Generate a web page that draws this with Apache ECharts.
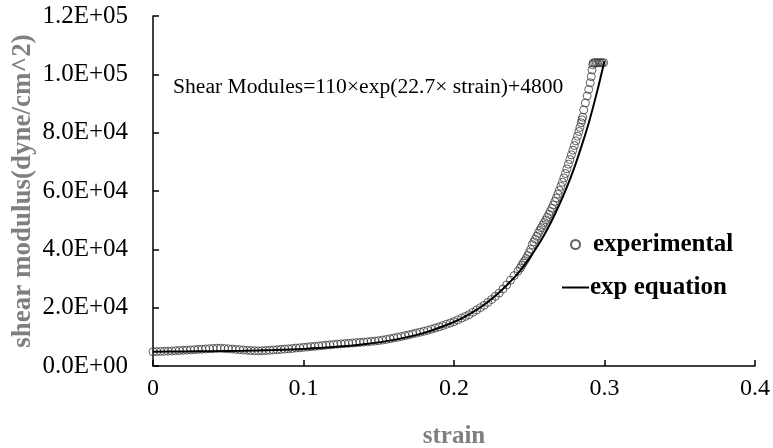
<!DOCTYPE html>
<html>
<head>
<meta charset="utf-8">
<script src="https://cdn.jsdelivr.net/npm/echarts@6/dist/echarts.min.js"></script>
<style>
html,body{margin:0;padding:0;background:#fff;}
#chart{width:773px;height:448px;}
</style>
</head>
<body>
<div id="chart"></div>
<script>
// experimental points (strain, shear modulus)
var expStrain = [
  0.0000,0.0025,0.0050,0.0075,0.0100,0.0125,0.0150,0.0175,0.0200,0.0225,
  0.0250,0.0275,0.0300,0.0325,0.0350,0.0375,0.0400,0.0425,0.0450,0.0475,
  0.0500,0.0525,0.0550,0.0575,0.0600,0.0625,0.0650,0.0675,0.0700,0.0725,
  0.0750,0.0775,0.0800,0.0825,0.0850,0.0875,0.0900,0.0925,0.0950,0.0975,
  0.1000,0.1025,0.1050,0.1075,0.1100,0.1125,0.1150,0.1175,0.1200,0.1225,
  0.1250,0.1275,0.1300,0.1325,0.1350,0.1375,0.1400,0.1425,0.1450,0.1475,
  0.1500,0.1525,0.1550,0.1575,0.1600,0.1625,0.1650,0.1675,0.1700,0.1725,
  0.1750,0.1775,0.1800,0.1825,0.1850,0.1875,0.1900,0.1925,0.1950,0.1975,
  0.2000,0.2025,0.2050,0.2075,0.2100,0.2125,0.2150,0.2175,0.2200,0.2225,
  0.2250,0.2275,0.2300,0.2325,0.2350,0.2375,0.2400,0.2425,
  0.244,0.245,0.246,0.247,0.248,0.249,0.250,0.251,0.252,0.253,
  0.254,0.255,0.256,0.257,0.258,0.259,0.260,0.261,0.262,0.263,
  0.264,0.265,0.266,0.267,0.268,0.269,0.270,0.271,0.272,0.273,
  0.274,0.275,0.276,0.277,0.278,0.279,0.280,0.281,0.282,0.283,
  0.2837,0.2845,0.2850,0.2855,0.2862,0.2873,0.2885,0.2895,0.2905,0.2912,
  0.2917,0.2922,0.2925,0.2935,0.2945,0.2955,0.2965,0.2975,0.2985,0.2995
];
var expModulus = [
  4900,4950,5000,5050,5100,5150,5250,5300,5400,5450,
  5500,5600,5700,5750,5850,5950,6000,6100,6100,6000,
  5900,5800,5700,5600,5500,5400,5300,5250,5200,5250,
  5300,5400,5500,5600,5700,5800,5900,6000,6150,6250,
  6400,6500,6650,6750,6900,7000,7150,7250,7400,7500,
  7600,7700,7800,7900,8000,8100,8200,8300,8450,8550,
  8700,8900,9100,9350,9600,9850,10100,10400,10700,11000,
  11300,11600,11900,12250,12600,13000,13400,13850,14300,14750,
  15200,15800,16400,17000,17600,18400,19200,20000,20800,21800,
  22800,23900,25000,26400,27800,29400,31000,32500,
  33600,34500,35300,36100,36900,37900,38900,40000,41600,42600,
  43500,44500,45500,46500,47400,48300,49200,50100,51000,52000,
  53000,54100,55200,56400,57600,58900,60200,61600,63000,64500,
  66000,67600,69200,70800,72400,74000,75600,77200,78800,80400,
  81800,83400,84400,85300,87800,90200,92600,94800,97100,99200,
  101500,103300,103900,104000,104000,103900,104000,104000,103900,104000
];
// exp equation curve
var eqStrain = [0,0.02,0.04,0.06,0.08,0.10,0.12,0.14,0.16,0.18,0.20,0.21,0.22,0.23,0.24,0.245,0.25,0.255,0.26,0.265,0.27,0.275,0.28,0.285,0.29,0.295,0.30];
var eqModulus = [4910,4970,5070,5230,5480,5860,6480,7440,8960,11350,15100,17700,21000,25200,30300,33400,36900,40700,45000,49900,55300,61300,68100,75800,84200,93900,104600];

var xTicks = ['0','0.1','0.2','0.3','0.4'];

function pairs(xs, ys){
  var out = [];
  for (var i = 0; i < xs.length; i++) out.push([xs[i], ys[i]]);
  return out;
}
function sci(v){
  if (v === 0) return '0.0E+00';
  var e = Math.floor(Math.log10(v) + 1e-9);
  var m = v / Math.pow(10, e);
  return m.toFixed(1) + 'E+' + (e < 10 ? '0' : '') + e;
}

var font = 'Liberation Serif';
var chart = echarts.init(document.getElementById('chart'));
var option = {
  animation: false,
  grid: {left: 153, right: 18, top: 16, bottom: 82, outerBoundsMode: 'none'},
  xAxis: {
    type: 'value', min: 0, max: 0.4, interval: 0.1,
    name: 'strain', nameLocation: 'middle', nameGap: 58, nameMoveOverlap: false,
    nameTextStyle: {fontFamily: font, fontSize: 25, fontWeight: 'bold', color: '#7f7f7f'},
    axisLine: {onZero: false, lineStyle: {color: '#000', width: 1.5}},
    axisTick: {inside: true, length: 6, lineStyle: {color: '#000', width: 1.5}},
    axisLabel: {fontFamily: font, fontSize: 24, color: '#000', margin: 11,
      formatter: function(v){ return xTicks[Math.round(v * 10)]; }},
    splitLine: {show: false}
  },
  yAxis: {
    type: 'value', min: 0, max: 120000, interval: 20000,
    name: 'shear modulus(dyne/cm^2)', nameLocation: 'middle', nameGap: 116, nameMoveOverlap: false,
    nameTextStyle: {fontFamily: font, fontSize: 27, fontWeight: 'bold', color: '#7f7f7f'},
    axisLine: {show: true, lineStyle: {color: '#000', width: 1.5}},
    axisTick: {show: true, inside: true, length: 6, lineStyle: {color: '#000', width: 1.5}},
    axisLabel: {fontFamily: font, fontSize: 25, color: '#000', margin: 25, formatter: sci},
    splitLine: {show: false}
  },
  legend: [{
    data: [{name: 'experimental', icon: 'circle'}],
    left: 565, top: 227, itemWidth: 9, itemHeight: 9,
    textStyle: {fontFamily: font, fontSize: 25, fontWeight: 'bold', color: '#000', padding: [0, 0, 0, 8]}
  }, {
    data: [{name: 'exp equation', icon: 'rect'}],
    left: 557, top: 270, itemWidth: 27, itemHeight: 2,
    textStyle: {fontFamily: font, fontSize: 25, fontWeight: 'bold', color: '#000', padding: [0, 0, 0, -4]}
  }],
  graphic: [{
    type: 'text', left: 173, top: 76,
    style: {text: 'Shear Modules=110\u00d7exp(22.7\u00d7 strain)+4800', font: '21.6px "Liberation Serif"', fill: '#000'}
  }],
  series: [{
    name: 'experimental', type: 'scatter',
    data: pairs(expStrain, expModulus),
    symbol: 'circle', symbolSize: 8,
    itemStyle: {color: 'rgba(255,255,255,0)', borderColor: '#3a3a3a', borderWidth: 1}
  }, {
    name: 'exp equation', type: 'line',
    data: pairs(eqStrain, eqModulus),
    smooth: 0.3, symbol: 'none',
    lineStyle: {color: '#000', width: 2},
    itemStyle: {color: '#000'}
  }]
};
chart.setOption(option);
</script>
</body>
</html>
